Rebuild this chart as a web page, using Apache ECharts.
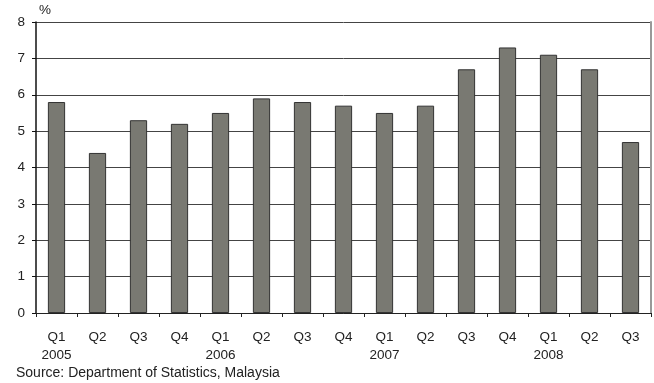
<!DOCTYPE html>
<html>
<head>
<meta charset="utf-8">
<script src="https://cdn.jsdelivr.net/npm/echarts@6/dist/echarts.min.js"></script>
<style>
  html, body { margin: 0; padding: 0; background: #fff; }
  #chart { width: 654px; height: 383px; }
</style>
</head>
<body>
<div id="chart"></div>
<script>
// Quarterly growth, %
const quarters = ['Q1', 'Q2', 'Q3', 'Q4', 'Q1', 'Q2', 'Q3', 'Q4', 'Q1', 'Q2', 'Q3', 'Q4', 'Q1', 'Q2', 'Q3'];
const years = ['2005', '', '', '', '2006', '', '', '', '2007', '', '', '', '2008', '', ''];
const values = [5.8, 4.4, 5.3, 5.2, 5.5, 5.9, 5.8, 5.7, 5.5, 5.7, 6.7, 7.3, 7.1, 6.7, 4.7];
const yTicks = [0, 1, 2, 3, 4, 5, 6, 7, 8];

const categories = quarters.map((q, i) => q + '|' + years[i]);
const font = 'Liberation Sans, Arial, sans-serif';

const chart = echarts.init(document.getElementById('chart'));
chart.setOption({
  animation: false,
  title: {
    text: 'Source: Department of Statistics, Malaysia',
    left: 13,
    top: 366,
    padding: [0, 3],
    textStyle: { fontFamily: font, fontSize: 14, fontWeight: 'normal', color: '#222' }
  },
  grid: { left: 36, right: 3, top: 22, bottom: 70 },
  xAxis: {
    type: 'category',
    data: categories,
    axisLine: { lineStyle: { color: '#222', width: 1 } },
    axisTick: { show: true, length: 4, lineStyle: { color: '#222' } },
    axisLabel: {
      interval: 0,
      margin: 15,
      fontFamily: font,
      fontSize: 13.5,
      color: '#222',
      lineHeight: 18,
      formatter: v => {
        const [q, y] = v.split('|');
        return y ? q + '\n' + y : q + '\n ';
      }
    }
  },
  yAxis: [{
    type: 'value',
    min: yTicks[0],
    max: yTicks[yTicks.length - 1],
    interval: 1,
    name: '%',
    nameLocation: 'end',
    nameGap: 5,
    nameTextStyle: { fontFamily: font, fontSize: 13.5, color: '#222', align: 'left', padding: [0, 0, 0, 3] },
    axisLine: { show: true, lineStyle: { color: '#111', width: 1.5 } },
    axisTick: { show: true, length: 4, lineStyle: { color: '#111' } },
    axisLabel: { margin: 11, fontFamily: font, fontSize: 13.5, color: '#222' },
    splitLine: { show: true, lineStyle: { color: '#444', width: 1 } }
  }, {
    type: 'value',
    position: 'right',
    min: yTicks[0],
    max: yTicks[yTicks.length - 1],
    interval: 1,
    axisLine: { show: true, lineStyle: { color: '#999', width: 2 } },
    axisTick: { show: false },
    axisLabel: { show: false },
    splitLine: { show: false }
  }],
  series: [{
    type: 'bar',
    data: values,
    barWidth: '42%',
    itemStyle: { color: '#797972', borderColor: '#333', borderWidth: 1 }
  }]
});
</script>
</body>
</html>
